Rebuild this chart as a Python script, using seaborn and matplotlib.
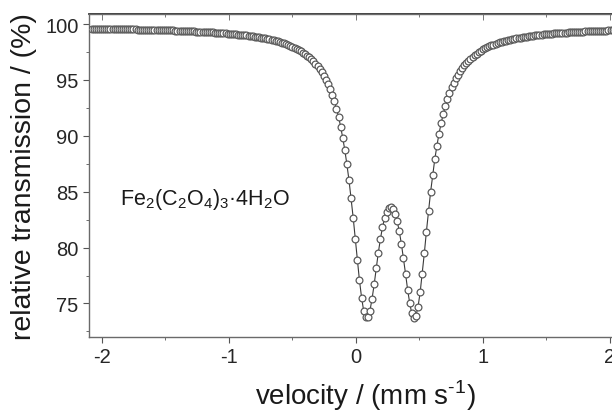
import matplotlib
matplotlib.use("Agg")
import matplotlib.pyplot as plt
import matplotlib.ticker as ticker
import seaborn as sns

# Moessbauer spectrum
velocity = [
    -2.080, -2.064, -2.047, -2.031, -2.014, -1.998, -1.981, -1.965, -1.948, -1.932,
    -1.915, -1.899, -1.882, -1.866, -1.849, -1.833, -1.816, -1.800, -1.784, -1.767,
    -1.751, -1.734, -1.718, -1.701, -1.685, -1.668, -1.652, -1.635, -1.619, -1.602,
    -1.586, -1.569, -1.553, -1.536, -1.520, -1.504, -1.487, -1.471, -1.454, -1.438,
    -1.421, -1.405, -1.388, -1.372, -1.355, -1.339, -1.322, -1.306, -1.289, -1.273,
    -1.256, -1.240, -1.224, -1.207, -1.191, -1.174, -1.158, -1.141, -1.125, -1.108,
    -1.092, -1.075, -1.059, -1.042, -1.026, -1.009, -0.993, -0.976, -0.960, -0.944,
    -0.927, -0.911, -0.894, -0.878, -0.861, -0.845, -0.828, -0.812, -0.795, -0.779,
    -0.762, -0.746, -0.729, -0.713, -0.696, -0.680, -0.664, -0.647, -0.631, -0.614,
    -0.598, -0.581, -0.565, -0.548, -0.532, -0.515, -0.499, -0.482, -0.466, -0.449,
    -0.433, -0.416, -0.400, -0.384, -0.367, -0.351, -0.334, -0.318, -0.301, -0.285,
    -0.268, -0.252, -0.235, -0.219, -0.202, -0.186, -0.169, -0.153, -0.136, -0.120,
    -0.104, -0.087, -0.071, -0.054, -0.038, -0.021, -0.005, 0.012, 0.028, 0.045,
    0.061, 0.078, 0.094, 0.111, 0.127, 0.144, 0.160, 0.176, 0.193, 0.209,
    0.226, 0.242, 0.259, 0.275, 0.292, 0.308, 0.325, 0.341, 0.358, 0.374,
    0.391, 0.407, 0.424, 0.440, 0.456, 0.473, 0.489, 0.506, 0.522, 0.539,
    0.555, 0.572, 0.588, 0.605, 0.621, 0.638, 0.654, 0.671, 0.687, 0.704,
    0.720, 0.736, 0.753, 0.769, 0.786, 0.802, 0.819, 0.835, 0.852, 0.868,
    0.885, 0.901, 0.918, 0.934, 0.951, 0.967, 0.984, 1.000, 1.016, 1.033,
    1.049, 1.066, 1.082, 1.099, 1.115, 1.132, 1.148, 1.165, 1.181, 1.198,
    1.214, 1.231, 1.247, 1.264, 1.280, 1.296, 1.313, 1.329, 1.346, 1.362,
    1.379, 1.395, 1.412, 1.428, 1.445, 1.461, 1.478, 1.494, 1.511, 1.527,
    1.544, 1.560, 1.576, 1.593, 1.609, 1.626, 1.642, 1.659, 1.675, 1.692,
    1.708, 1.725, 1.741, 1.758, 1.774, 1.791, 1.807, 1.824, 1.840, 1.856,
    1.873, 1.889, 1.906, 1.922, 1.939, 1.955, 1.972, 1.988, 2.005, 2.021,
    2.038, 2.054, 2.071, 2.087, 2.104, 2.120,
]
transmission = [
    99.58, 99.58, 99.58, 99.57, 99.57, 99.57, 99.57, 99.56, 99.56, 99.56,
    99.56, 99.55, 99.55, 99.55, 99.54, 99.54, 99.54, 99.53, 99.53, 99.53,
    99.52, 99.52, 99.51, 99.51, 99.51, 99.50, 99.50, 99.49, 99.49, 99.48,
    99.48, 99.47, 99.47, 99.46, 99.46, 99.45, 99.45, 99.44, 99.43, 99.43,
    99.42, 99.41, 99.41, 99.40, 99.39, 99.39, 99.38, 99.37, 99.36, 99.35,
    99.34, 99.33, 99.33, 99.32, 99.31, 99.29, 99.28, 99.27, 99.26, 99.25,
    99.24, 99.22, 99.21, 99.19, 99.18, 99.16, 99.15, 99.13, 99.11, 99.09,
    99.07, 99.05, 99.03, 99.01, 98.99, 98.96, 98.94, 98.91, 98.88, 98.86,
    98.82, 98.79, 98.76, 98.72, 98.68, 98.64, 98.60, 98.55, 98.51, 98.45,
    98.40, 98.34, 98.28, 98.21, 98.14, 98.06, 97.98, 97.89, 97.80, 97.69,
    97.58, 97.46, 97.33, 97.18, 97.03, 96.86, 96.67, 96.46, 96.23, 95.97,
    95.69, 95.37, 95.02, 94.62, 94.17, 93.66, 93.09, 92.43, 91.68, 90.83,
    89.85, 88.73, 87.46, 86.02, 84.42, 82.66, 80.79, 78.89, 77.08, 75.52,
    74.36, 73.76, 73.78, 74.37, 75.40, 76.71, 78.13, 79.51, 80.76, 81.81,
    82.63, 83.21, 83.54, 83.63, 83.46, 83.04, 82.38, 81.48, 80.35, 79.05,
    77.65, 76.25, 75.01, 74.11, 73.71, 73.90, 74.70, 76.01, 77.68, 79.53,
    81.43, 83.27, 84.98, 86.53, 87.91, 89.13, 90.19, 91.13, 91.95, 92.66,
    93.29, 93.84, 94.33, 94.76, 95.14, 95.48, 95.79, 96.06, 96.31, 96.53,
    96.73, 96.92, 97.08, 97.23, 97.37, 97.50, 97.62, 97.73, 97.83, 97.92,
    98.01, 98.09, 98.16, 98.23, 98.30, 98.36, 98.42, 98.47, 98.52, 98.57,
    98.61, 98.66, 98.70, 98.73, 98.77, 98.80, 98.84, 98.87, 98.89, 98.92,
    98.95, 98.97, 99.00, 99.02, 99.04, 99.06, 99.08, 99.10, 99.12, 99.14,
    99.15, 99.17, 99.18, 99.20, 99.21, 99.23, 99.24, 99.25, 99.26, 99.28,
    99.29, 99.30, 99.31, 99.32, 99.33, 99.34, 99.35, 99.36, 99.36, 99.37,
    99.38, 99.39, 99.40, 99.40, 99.41, 99.42, 99.42, 99.43, 99.44, 99.44,
    99.45, 99.45, 99.46, 99.46, 99.47, 99.48,
]
x_ticks = [-2, -1, 0, 1, 2]
y_ticks = [75, 80, 85, 90, 95, 100]
sample = r'Fe$\mathregular{_2}$(C$\mathregular{_2}$O$\mathregular{_4}$)$\mathregular{_3}$·4H$\mathregular{_2}$O'

sns.set_theme(style='ticks')
plt.rcParams['font.family'] = ['Liberation Sans', 'DejaVu Sans']
plt.rcParams['mathtext.fontset'] = 'custom'
plt.rcParams['mathtext.rm'] = 'Liberation Sans'
plt.rcParams['axes.unicode_minus'] = False

fig = plt.figure(figsize=(6.12, 4.14), dpi=100)
# right spine lies just outside the picture, as in the reference
ax = fig.add_axes([0.1455, 0.1836, 0.872, 0.780])

sns.lineplot(x=velocity, y=transmission, ax=ax, color='#3a3a3a', lw=0.8, zorder=2)
sns.scatterplot(x=velocity, y=transmission, ax=ax, marker='o', s=24, facecolor='white',
                edgecolor='#5a5a5a', linewidth=0.9, zorder=3)

ax.set_xlim(-2.1, 2.1)
ax.set_ylim(72, 100.9)
ax.set_xticks(x_ticks)
ax.set_yticks(y_ticks)
ax.xaxis.set_minor_locator(ticker.MultipleLocator(0.5))
ax.yaxis.set_minor_locator(ticker.MultipleLocator(2.5))
ax.tick_params(which='both', direction='out', colors='#555555', labelcolor='#262626', labelsize=14.5)
ax.tick_params(which='major', length=4, width=0.8)
ax.tick_params(which='minor', length=2, width=0.6)
for s in ax.spines.values():
    s.set_color('#6a6a6a')
    s.set_linewidth(1.0)

# small inward ticks along the top edge
top = ax.secondary_xaxis('top')
top.set_xticks(x_ticks)
top.xaxis.set_minor_locator(ticker.MultipleLocator(0.5))
top.tick_params(which='both', direction='in', labeltop=False, colors='#777777', length=4, width=0.7)
top.tick_params(which='minor', length=2.5)

ax.set_xlabel(r'velocity / (mm s$^{\text{-1}}$)', fontsize=20, color='#1a1a1a')
ax.xaxis.set_label_coords(0.517, -0.125)
ax.set_ylabel('relative transmission / (%)', fontsize=20.5, color='#1a1a1a', labelpad=6)
ax.text(-1.86, 84.4, sample, fontsize=15.5, va='center', ha='left', color='#1a1a1a')

fig.savefig('out.png')
plt.close()
